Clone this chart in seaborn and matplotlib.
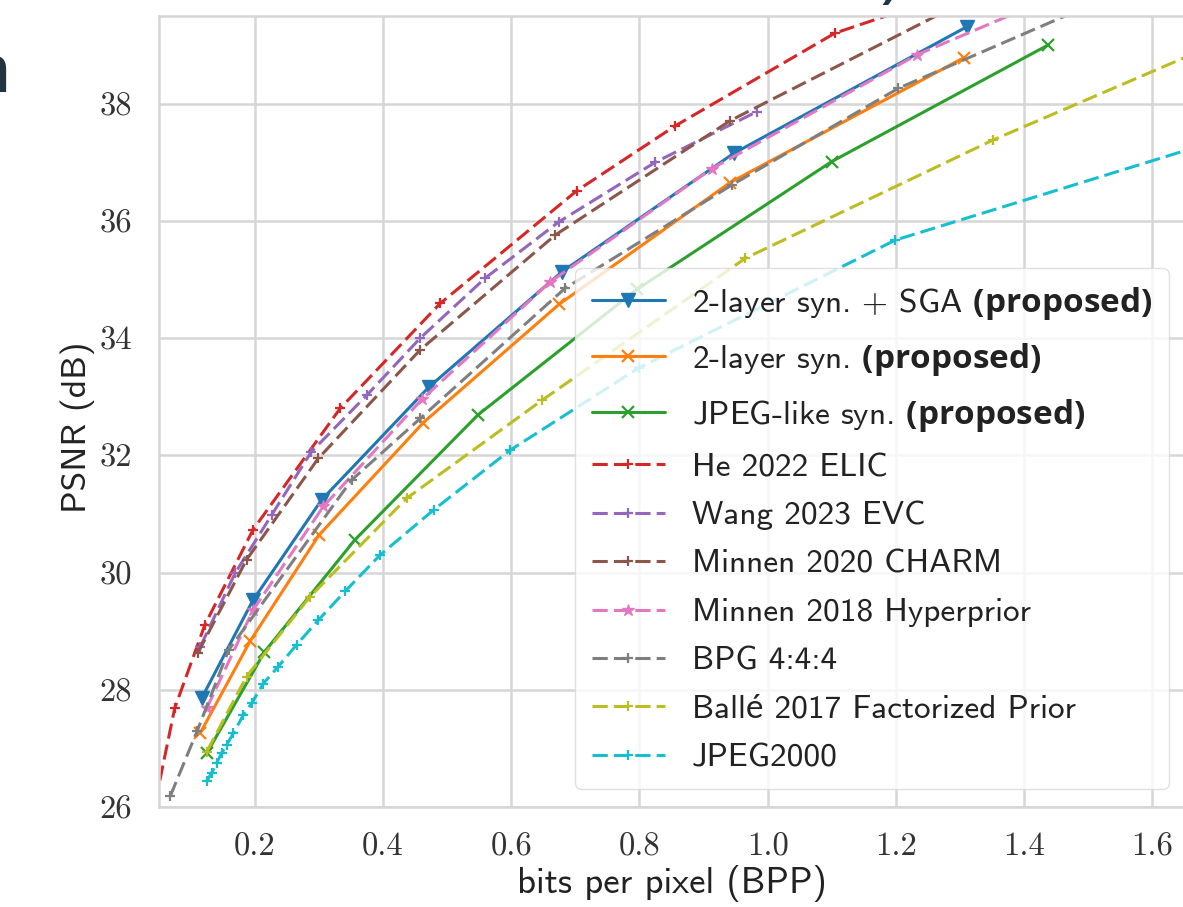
import matplotlib
matplotlib.use("Agg")
import matplotlib.pyplot as plt
import seaborn as sns
import numpy as np

# ---------------- data ----------------
sga_x = [0.117, 0.197, 0.304, 0.471, 0.679, 0.947, 1.311]
sga_y = [27.86, 29.53, 31.24, 33.16, 35.13, 37.15, 39.31]

two_x = [0.115, 0.193, 0.300, 0.463, 0.675, 0.941, 1.306]
two_y = [27.27, 28.84, 30.64, 32.56, 34.58, 36.65, 38.78]

jpl_x = [0.125, 0.215, 0.356, 0.548, 0.796, 1.100, 1.438]
jpl_y = [26.92, 28.65, 30.56, 32.69, 34.83, 37.01, 39.00]

elic_x = [0.045, 0.075, 0.122, 0.197, 0.333, 0.489, 0.702, 0.856, 1.105, 1.350]
elic_y = [26.10, 27.69, 29.11, 30.73, 32.80, 34.59, 36.51, 37.62, 39.20, 40.10]

evc_x = [0.115, 0.169, 0.226, 0.288, 0.375, 0.458, 0.559, 0.674, 0.825, 0.983]
evc_y = [28.74, 29.99, 30.98, 32.06, 33.03, 34.00, 35.02, 35.98, 37.00, 37.86]

charm_x = [0.111, 0.187, 0.299, 0.458, 0.669, 0.942, 1.300]
charm_y = [28.63, 30.22, 31.95, 33.80, 35.76, 37.71, 39.70]

hyper_x = [0.125, 0.197, 0.307, 0.461, 0.661, 0.913, 1.233, 1.450]
hyper_y = [27.69, 29.36, 31.13, 32.96, 34.96, 36.89, 38.83, 39.84]

bpg_x = [0.068, 0.110, 0.159, 0.351, 0.458, 0.684, 0.944, 1.204, 1.550]
bpg_y = [26.19, 27.30, 28.68, 31.58, 32.63, 34.85, 36.61, 38.26, 39.90]

balle_x = [0.125, 0.187, 0.286, 0.437, 0.648, 0.965, 1.352, 1.750]
balle_y = [26.95, 28.23, 29.59, 31.27, 32.94, 35.36, 37.38, 39.25]

j2k_x = [0.1246, 0.1324, 0.1402, 0.148, 0.1558, 0.1663, 0.1819, 0.1949, 0.2131,
         0.2365, 0.2651, 0.2989, 0.3406, 0.3952, 0.4788, 0.5984, 0.7986, 1.199, 1.750]
j2k_y = [26.44, 26.58, 26.75, 26.92, 27.06, 27.26, 27.57, 27.77, 28.11,
         28.40, 28.77, 29.19, 29.68, 30.30, 31.07, 32.09, 33.49, 35.67, 37.53]

labels = [
    r"2-layer syn. + SGA $\mathbf{(proposed)}$",
    r"2-layer syn. $\mathbf{(proposed)}$",
    r"JPEG-like syn. $\mathbf{(proposed)}$",
    "He 2022 ELIC",
    "Wang 2023 EVC",
    "Minnen 2020 CHARM",
    "Minnen 2018 Hyperprior",
    "BPG 4:4:4",
    "Ballé 2017 Factorized Prior",
    "JPEG2000",
]

xticks = [0.2, 0.4, 0.6, 0.8, 1.0, 1.2, 1.4, 1.6]
xtick_labels = ["0.2", "0.4", "0.6", "0.8", "1.0", "1.2", "1.4", "1.6"]
yticks = [26, 28, 30, 32, 34, 36, 38]
ytick_labels = ["26", "28", "30", "32", "34", "36", "38"]

# ---------------- style ----------------
sns.set_theme(style="whitegrid")
plt.rcParams['font.family'] = ['cmss10', 'Lato', 'DejaVu Sans']
plt.rcParams['mathtext.fontset'] = 'custom'
plt.rcParams['mathtext.bf'] = 'Open Sans:bold'
plt.rcParams['mathtext.rm'] = 'Open Sans'
plt.rcParams['axes.unicode_minus'] = False

pal = sns.color_palette("tab10")
DASH = (0, (5, 2))

series = [
    (sga_x, sga_y, pal[0], 'v', 10, '-', 1.0),
    (two_x, two_y, pal[1], 'x', 9, '-', 1.6),
    (jpl_x, jpl_y, pal[2], 'x', 9, '-', 1.6),
    (elic_x, elic_y, pal[3], '+', 7, DASH, 1.6),
    (evc_x, evc_y, pal[4], '+', 7, DASH, 1.6),
    (charm_x, charm_y, pal[5], '+', 7, DASH, 1.6),
    (hyper_x, hyper_y, pal[6], '*', 9, DASH, 1.0),
    (bpg_x, bpg_y, pal[7], '+', 7, DASH, 1.6),
    (balle_x, balle_y, pal[8], '+', 7, DASH, 1.6),
    (j2k_x, j2k_y, pal[9], '+', 7, DASH, 1.6),
]

W, H = 1183, 907
fig = plt.figure(figsize=(W / 100, H / 100), dpi=100)
ax = fig.add_axes([158.7 / W, 1 - 807.3 / H, (1.70 - 0.05) * 641 / W, 13.5 * 58.65 / H])

for (x, y, c, m, ms, ls, mew), lab in zip(series, labels):
    sns.lineplot(x=np.array(x), y=np.array(y), ax=ax, color=c, marker=m, markersize=ms,
                 linestyle=ls, linewidth=2.2, markeredgecolor=c, markerfacecolor=c,
                 markeredgewidth=mew, estimator=None, sort=False, label=lab)

ax.set_xlim(0.05, 1.70)
ax.set_ylim(26, 39.5)
ax.set_xticks(xticks)
ax.set_xticklabels(xtick_labels, fontfamily='cmr10', fontsize=23.5, color='#333333')
ax.set_yticks(yticks)
ax.set_yticklabels(ytick_labels, fontfamily='cmr10', fontsize=23.5, color='#333333')
ax.tick_params(axis='x', pad=12)
ax.tick_params(axis='y', pad=13)
ax.grid(color='#d6d6d6', linewidth=1.8)
for s in ax.spines.values():
    s.set_color('#d6d6d6')
    s.set_linewidth(1.8)

ax.set_xlabel("bits per pixel (BPP)", fontsize=26.5, color='#222222')
ax.set_ylabel("PSNR (dB)", fontsize=25.5, color='#222222')
ax.xaxis.set_label_coords(0.485, -0.073)
ax.yaxis.set_label_coords(-0.060, 0.48)

leg = ax.legend(loc='upper left', bbox_to_anchor=(575 / W, 1 - 268 / H),
                bbox_transform=fig.transFigure, borderaxespad=0, fontsize=24,
                handlelength=2.2, handletextpad=0.8, labelspacing=0.57,
                frameon=True, fancybox=True, framealpha=0.8, edgecolor='0.85',
                borderpad=0.5, numpoints=1)
for t in leg.get_texts():
    t.set_color('#222222')

# fragments of surrounding slide text visible in the reference crop
fig.text(-32 / W, 1 - 92 / H, "n", fontsize=48, color='#22343f', family='Open Sans',
         fontweight='semibold', va='baseline')
fig.text(880 / W, 1 - 10 / H, ")", fontsize=40, color='#22343f', family='Open Sans',
         fontweight='semibold', va='bottom')

fig.savefig("out.png", dpi=100)
